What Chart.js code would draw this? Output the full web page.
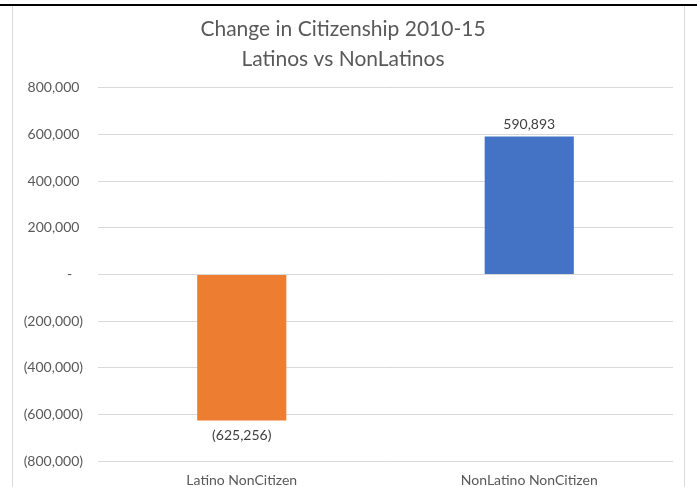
<!DOCTYPE html>
<html>
<head>
<meta charset="utf-8">
<script src="https://cdn.jsdelivr.net/npm/chart.js@4.4.1/dist/chart.umd.min.js"></script>
<style>
    html, body { margin: 0; padding: 0; background: #fff; }
    #wrap { position: relative; width: 697px; height: 487px; overflow: hidden; }
    #topRule { position: absolute; left: 0; top: 4px; width: 697px; height: 2px; background: #000; }
    #frame { position: absolute; left: 12px; top: 6px; width: 671px; height: 490px;
             border-left: 1px solid #d9d9d9; border-right: 1px solid #d9d9d9; }
    #chartBox { position: absolute; left: 13px; top: 6px; width: 671px; height: 496px; }
</style>
</head>
<body>
<div id="wrap">
    <div id="topRule"></div>
    <div id="frame"></div>
    <div id="chartBox"><canvas id="citizenChart"></canvas></div>
</div>
<script>
// Données : variation du nombre de non-citoyens 2010-15
const CATEGORIES = ['Latino NonCitizen', 'NonLatino NonCitizen'];
const CHANGES = [-625256, 590893];
const BAR_COLORS = ['#ED7D31', '#4472C4'];
const TITLE_LINES = ['Change in Citizenship 2010-15', 'Latinos vs NonLatinos'];

const FONT = "Lato, 'Open Sans', sans-serif";
const TEXT_GREY = '#595959';

// format comptable : 1,234 / (1,234) / -
function accounting(v) {
    if (v === 0) return '-';
    const s = Math.abs(v).toLocaleString('en-US');
    return v < 0 ? `(${s})` : s;
}

// version axe : espace final pour aligner les positifs sur les parenthèses
function axisLabel(v) {
    if (v === 0) return '-   ';
    return v < 0 ? accounting(v) : accounting(v) + ' ';
}

// étiquettes de valeur au bout de chaque barre
const valueLabels = {
    id: 'valueLabels',
    afterDatasetsDraw(chart) {
        const ctx = chart.ctx;
        const meta = chart.getDatasetMeta(0);
        ctx.save();
        ctx.font = `14px ${FONT}`;
        ctx.fillStyle = '#404040';
        ctx.textAlign = 'center';
        meta.data.forEach((bar, i) => {
            const v = chart.data.datasets[0].data[i];
            if (v >= 0) {
                ctx.textBaseline = 'bottom';
                ctx.fillText(accounting(v), bar.x, bar.y - 5);
            } else {
                ctx.textBaseline = 'top';
                ctx.fillText(accounting(v), bar.x, bar.y + 8);
            }
        });
        ctx.restore();
    }
};

new Chart(document.getElementById('citizenChart'), {
    type: 'bar',
    data: {
        labels: CATEGORIES,
        datasets: [{
            data: CHANGES,
            backgroundColor: BAR_COLORS,
            borderWidth: 0,
            barPercentage: 1,
            categoryPercentage: 0.31
        }]
    },
    options: {
        responsive: true,
        maintainAspectRatio: false,
        animation: false,
        layout: { padding: { left: 0, right: 11, top: 4, bottom: 2 } },
        plugins: {
            legend: { display: false },
            tooltip: { enabled: false },
            title: {
                display: true,
                text: TITLE_LINES,
                color: TEXT_GREY,
                font: { family: FONT, size: 21, weight: 'normal', lineHeight: 1.4 },
                padding: { top: 5, bottom: 14 }
            }
        },
        scales: {
            y: {
                min: -800000,
                max: 800000,
                border: { display: false },
                grid: { color: '#d9d9d9', drawTicks: false },
                ticks: {
                    stepSize: 200000,
                    padding: 15,
                    color: TEXT_GREY,
                    font: { family: FONT, size: 14 },
                    callback: v => axisLabel(v)
                },
                // largeur fixe de l'axe pour caler la zone de tracé
                afterFit: scale => { scale.width = 85; }
            },
            x: {
                border: { display: false },
                grid: { display: false, drawTicks: false },
                ticks: {
                    padding: 11,
                    color: TEXT_GREY,
                    font: { family: FONT, size: 14 }
                }
            }
        }
    },
    plugins: [valueLabels]
});
</script>
</body>
</html>
